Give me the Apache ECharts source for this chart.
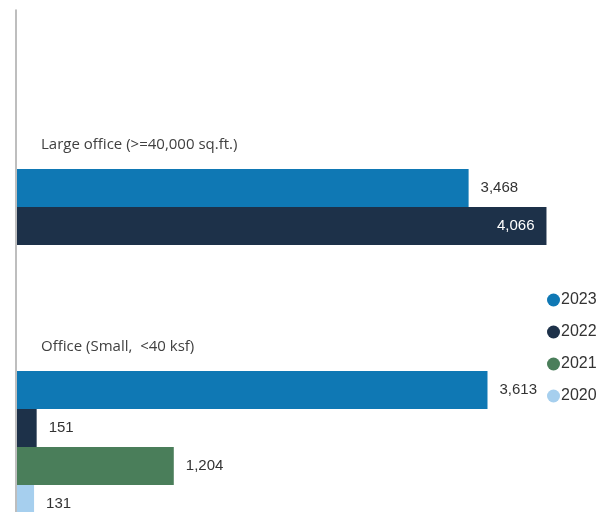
<!DOCTYPE html>
<html>
<head>
<meta charset="utf-8">
<script src="https://cdn.jsdelivr.net/npm/echarts@6/dist/echarts.min.js"></script>
<style>html,body{margin:0;padding:0;background:#fff;}#c{width:613px;height:512px;}</style>
</head>
<body>
<div id="c"></div>
<script>
var categories = ['Large office (>=40,000 sq.ft.)', 'Office (Small,  <40 ksf)'];
var seriesNames = ['2023', '2022', '2021', '2020'];
var values2023 = [3468, 3613];
var values2022 = [4066, 151];
var values2021 = [null, 1204];
var values2020 = [null, 131];
var colors = ['#0f78b4', '#1d3149', '#4a7e5a', '#a6cfee'];

var allValues = [values2023, values2022, values2021, values2020];
function fmt(v) { return String(v).replace(/\B(?=(\d{3})+(?!\d))/g, ','); }

var series = allValues.map(function (vals, i) {
  return {
    name: seriesNames[i],
    type: 'bar',
    xAxisIndex: 0, yAxisIndex: 0,
    barGap: '0%',
    barCategoryGap: '24.75%',
    itemStyle: { color: colors[i] },
    data: vals.map(function (v) {
      if (v == null) return '-';
      var inside = v >= 4000;
      return {
        value: v,
        label: {
          show: true,
          position: inside ? 'insideRight' : 'right',
          distance: 12,
          color: inside ? '#ffffff' : '#333333',
          fontFamily: 'Liberation Sans, Arial, sans-serif',
          fontSize: 15,
          formatter: function (p) { return fmt(p.value); }
        }
      };
    })
  };
});

var chart = echarts.init(document.getElementById('c'));
chart.setOption({
  animation: false,
  backgroundColor: '#ffffff',
  legend: {
    orient: 'vertical',
    left: 542,
    top: 287,
    icon: 'circle',
    itemWidth: 13,
    itemHeight: 13,
    itemGap: 16,
    textStyle: { fontFamily: 'Liberation Sans, Arial, sans-serif', fontSize: 16, color: '#333', lineHeight: 16, padding: [0, 0, 0, -4] },
    data: seriesNames
  },
  grid: [
    { left: 17, top: 144, width: 586, height: 404, outerBoundsMode: 'none', containLabel: false },
    { left: 16, top: 10, width: 1, height: 502, outerBoundsMode: 'none', containLabel: false }
  ],
  xAxis: [
    { type: 'value', gridIndex: 0, min: 0, max: 4500, show: false },
    { type: 'value', gridIndex: 1, show: false }
  ],
  yAxis: [
    {
      type: 'category', gridIndex: 0, inverse: true, data: categories,
      axisLine: { show: false }, axisTick: { show: false },
      axisLabel: {
        inside: true, margin: 24, interval: 0, hideOverlap: false,
        verticalAlign: 'middle',
        formatter: function (v) { return '{t|' + v + '}\n{s|}'; },
        rich: {
          t: { color: '#404040', fontFamily: 'Open Sans, sans-serif', fontSize: 15, height: 20, lineHeight: 20 },
          s: { height: 200, lineHeight: 200 }
        }
      }
    },
    {
      type: 'value', gridIndex: 1, min: 0, max: 1,
      axisLine: { show: true, lineStyle: { color: '#a8a8a8', width: 1.5 } },
      axisTick: { show: false }, axisLabel: { show: false }, splitLine: { show: false }
    }
  ],
  series: series
});
</script>
</body>
</html>
